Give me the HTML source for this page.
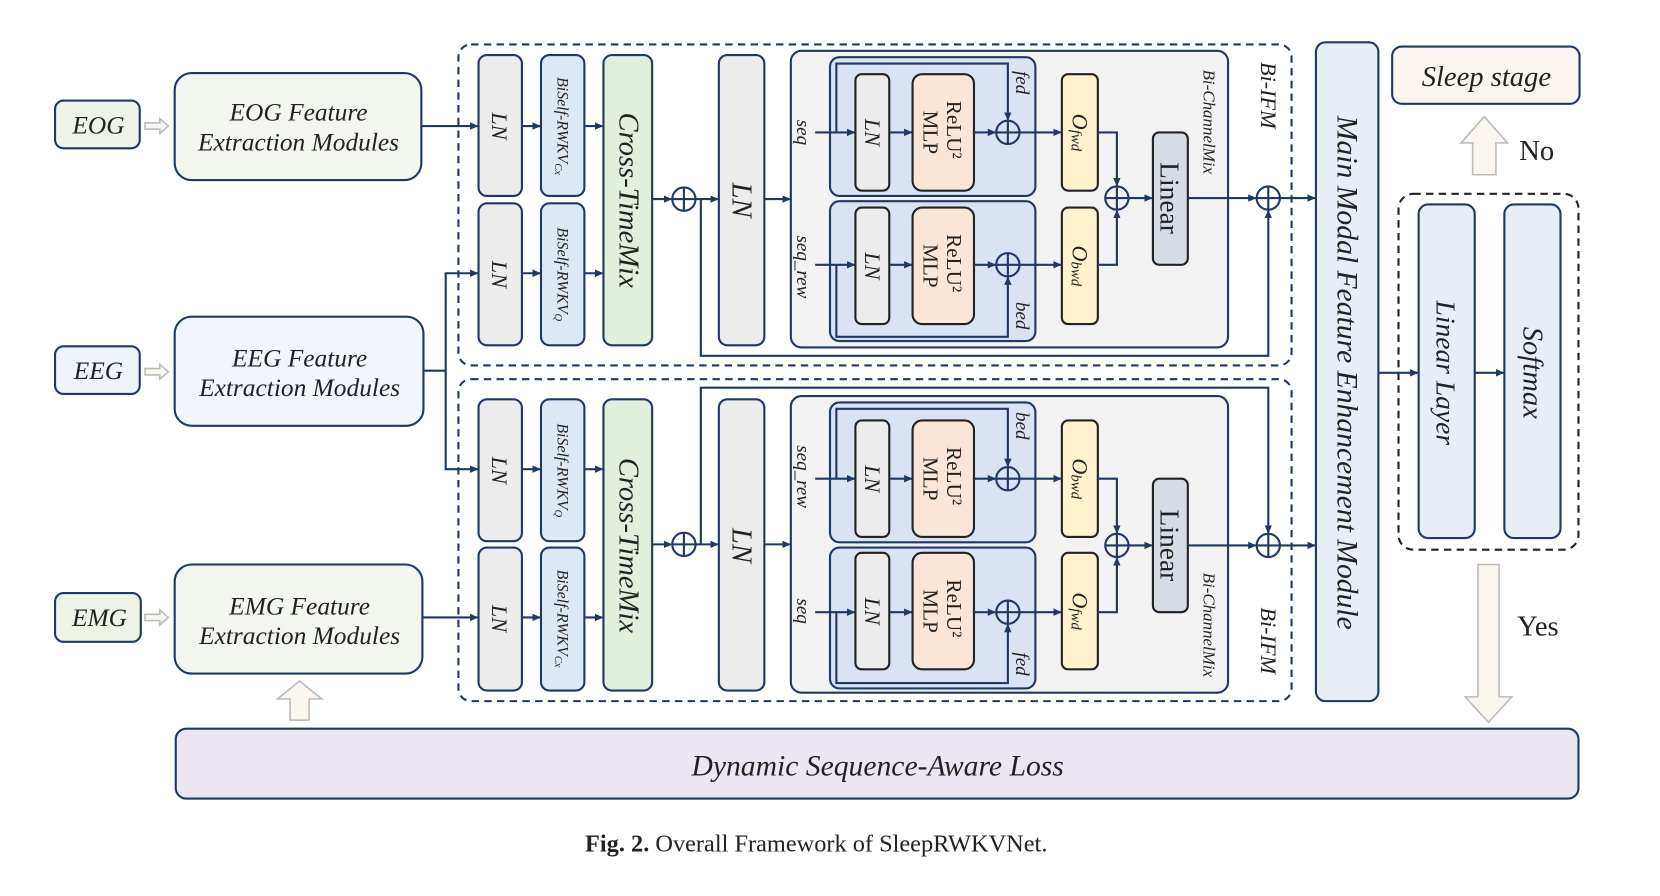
<!DOCTYPE html>
<html><head><meta charset="utf-8"><style>
html,body{margin:0;padding:0;background:#fff;}
svg{display:block;}
text{font-family:"Liberation Serif",serif;fill:#222;}
.it{font-style:italic;}
</style></head><body>
<svg width="1660" height="896" viewBox="0 0 1568 846" preserveAspectRatio="none" xmlns="http://www.w3.org/2000/svg">
<defs>
<marker id="a" markerWidth="8" markerHeight="8" refX="7" refY="4" orient="auto" markerUnits="userSpaceOnUse"><path d="M0,0.5 L8,4 L0,7.5 z" fill="#1f3864"/></marker>
<g id="op"><circle r="11" fill="none" stroke="#1f3864" stroke-width="2"/><path d="M-11,0H11M0,-11V11" stroke="#1f3864" stroke-width="2"/></g>
</defs>
<g stroke="#1f3864" stroke-width="2" fill="none">
<rect x="52" y="95" width="80" height="45" rx="8" fill="#eef3e8"/>
<rect x="52" y="327" width="80" height="45" rx="8" fill="#eef3fa"/>
<rect x="52" y="560" width="81" height="46" rx="8" fill="#eef3e8"/>
<rect x="165" y="69" width="233" height="101" rx="16" fill="#f2f6ee"/>
<rect x="165" y="299" width="235" height="103" rx="16" fill="#f2f6fc"/>
<rect x="165" y="533" width="234" height="103" rx="16" fill="#f2f6ee"/>
<rect x="433" y="42" width="787" height="303" rx="12" stroke-dasharray="7,5"/>
<rect x="433" y="358" width="787" height="304" rx="12" stroke-dasharray="7,5"/>
<rect x="1321" y="183" width="170" height="336" rx="14" stroke-dasharray="7,5" stroke="#222"/>
<rect x="452" y="52" width="41" height="133" rx="8" fill="#ececec"/>
<rect x="452" y="192" width="41" height="134" rx="8" fill="#ececec"/>
<rect x="511" y="52" width="41" height="133" rx="8" fill="#dde8f5"/>
<rect x="511" y="192" width="41" height="134" rx="8" fill="#dde8f5"/>
<rect x="570" y="52" width="46" height="274" rx="8" fill="#e2efda"/>
<rect x="679" y="52" width="43" height="274" rx="8" fill="#ececec"/>
<rect x="747" y="48" width="413" height="280" rx="10" fill="#f2f2f2"/>
<rect x="784" y="54" width="194" height="131" rx="9" fill="#dae3f3"/>
<rect x="784" y="190" width="194" height="132" rx="9" fill="#dae3f3"/>
<rect x="808" y="70" width="32" height="110" rx="6" fill="#ececec" stroke="#222"/>
<rect x="862" y="70" width="58" height="110" rx="9" fill="#fbe5d6" stroke="#222"/>
<rect x="808" y="196" width="32" height="110" rx="6" fill="#ececec" stroke="#222"/>
<rect x="862" y="196" width="58" height="110" rx="9" fill="#fbe5d6" stroke="#222"/>
<rect x="1003" y="70" width="34" height="110" rx="6" fill="#fff2cc" stroke="#222"/>
<rect x="1003" y="196" width="34" height="110" rx="6" fill="#fff2cc" stroke="#222"/>
<rect x="1089" y="125" width="33" height="125" rx="6" fill="#d6dce5" stroke="#222"/>
<rect x="452" y="377" width="41" height="134" rx="8" fill="#ececec"/>
<rect x="452" y="517" width="41" height="135" rx="8" fill="#ececec"/>
<rect x="511" y="377" width="41" height="134" rx="8" fill="#dde8f5"/>
<rect x="511" y="517" width="41" height="135" rx="8" fill="#dde8f5"/>
<rect x="570" y="377" width="46" height="275" rx="8" fill="#e2efda"/>
<rect x="679" y="377" width="43" height="275" rx="8" fill="#ececec"/>
<rect x="747" y="374" width="413" height="280" rx="10" fill="#f2f2f2"/>
<rect x="784" y="380" width="194" height="132" rx="9" fill="#dae3f3"/>
<rect x="784" y="517" width="194" height="133" rx="9" fill="#dae3f3"/>
<rect x="808" y="397" width="32" height="110" rx="6" fill="#ececec" stroke="#222"/>
<rect x="862" y="397" width="58" height="110" rx="9" fill="#fbe5d6" stroke="#222"/>
<rect x="808" y="522" width="32" height="110" rx="6" fill="#ececec" stroke="#222"/>
<rect x="862" y="522" width="58" height="110" rx="9" fill="#fbe5d6" stroke="#222"/>
<rect x="1003" y="397" width="34" height="110" rx="6" fill="#fff2cc" stroke="#222"/>
<rect x="1003" y="522" width="34" height="110" rx="6" fill="#fff2cc" stroke="#222"/>
<rect x="1089" y="452" width="33" height="126" rx="6" fill="#d6dce5" stroke="#222"/>
<rect x="1243" y="40" width="59" height="622" rx="9" fill="#e8eef8"/>
<rect x="1315" y="44" width="177" height="54" rx="9" fill="#fbf5f0"/>
<rect x="1340" y="193" width="53" height="315" rx="9" fill="#e8eef8"/>
<rect x="1421" y="193" width="53" height="315" rx="9" fill="#e8eef8"/>
<rect x="166" y="688" width="1325" height="66" rx="10" fill="#ece6f2"/>
</g>
<g fill="#fbf5f0" stroke="#bbb" stroke-width="1.5">
<path d="M137,116h14v-4l8,7-8,7v-4h-14z"/>
<path d="M137,348h14v-4l8,7-8,7v-4h-14z"/>
<path d="M137,580h14v-4l8,7-8,7v-4h-14z"/>
<path d="M274,680v-20h-12l21,-17 21,17h-12v20z"/>
<path d="M1391,165v-30h-11l22,-25 22,25h-11v30z"/>
<path d="M1396,533h20v125h12l-22,24-22,-24h12z"/>
</g>
<g stroke="#1f3864" stroke-width="2" fill="none" marker-end="url(#a)">
<path d="M398,119H451"/>
<path d="M400,350H421V258H451"/>
<path d="M421,350V443H451"/>
<path d="M399,583H451"/>
<path d="M493,119H510"/><path d="M493,258H510"/><path d="M552,119H569"/><path d="M552,258H569"/>
<path d="M616,188H634"/><path d="M657,188H678"/><path d="M722,188H746"/>
<path d="M493,443H510"/><path d="M493,583H510"/><path d="M552,443H569"/><path d="M552,583H569"/>
<path d="M616,514H634"/><path d="M657,514H678"/><path d="M722,514H746"/>
<path d="M770,125H807"/><path d="M840,125H861"/><path d="M920,125H940"/><path d="M963,125H1002"/>
<path d="M790,125V60H952V113"/>
<path d="M770,250H807"/><path d="M840,250H861"/><path d="M920,250H940"/><path d="M963,250H1002"/>
<path d="M790,250V318H952V262"/>
<path d="M1037,125H1055V175"/><path d="M1037,250H1055V199"/>
<path d="M1066,187H1088"/><path d="M1122,187H1186"/><path d="M1209,187H1242"/>
<path d="M662,188V336H1198V199"/>
<path d="M770,452H807"/><path d="M840,452H861"/><path d="M920,452H940"/><path d="M963,452H1002"/>
<path d="M790,452V386H952V440"/>
<path d="M770,578H807"/><path d="M840,578H861"/><path d="M920,578H940"/><path d="M963,578H1002"/>
<path d="M790,578V645H952V590"/>
<path d="M1037,452H1055V503"/><path d="M1037,578H1055V527"/>
<path d="M1066,515H1088"/><path d="M1122,515H1186"/><path d="M1209,515H1242"/>
<path d="M662,514V366H1198V503"/>
<path d="M1302,352H1339"/><path d="M1393,352H1420"/>
</g>
<use href="#op" x="646" y="188"/><use href="#op" x="952" y="125"/><use href="#op" x="952" y="250"/><use href="#op" x="1055" y="187"/><use href="#op" x="1198" y="187"/>
<use href="#op" x="646" y="514"/><use href="#op" x="952" y="452"/><use href="#op" x="952" y="578"/><use href="#op" x="1055" y="515"/><use href="#op" x="1198" y="515"/>
<g class="it" font-size="24" text-anchor="middle">
<text x="93" y="126">EOG</text><text x="93" y="358">EEG</text><text x="94" y="591">EMG</text>
<text x="282" y="114">EOG Feature</text><text x="282" y="142">Extraction Modules</text>
<text x="283" y="346">EEG Feature</text><text x="283" y="374">Extraction Modules</text>
<text x="283" y="580">EMG Feature</text><text x="283" y="608">Extraction Modules</text>
<text x="1404" y="81" font-size="27">Sleep stage</text>
<text x="829" y="732" font-size="28">Dynamic Sequence-Aware Loss</text>
</g>
<text x="1435" y="151" font-size="27">No</text>
<text x="1433" y="600" font-size="27">Yes</text>
<g class="it" text-anchor="middle" dominant-baseline="central">
<g font-size="21">
<text transform="translate(472,119) rotate(90)">LN</text><text transform="translate(472,259) rotate(90)">LN</text>
<text transform="translate(472,444) rotate(90)">LN</text><text transform="translate(472,584) rotate(90)">LN</text>
<text transform="translate(824,125) rotate(90)">LN</text><text transform="translate(824,251) rotate(90)">LN</text>
<text transform="translate(824,452) rotate(90)">LN</text><text transform="translate(824,577) rotate(90)">LN</text>
</g>
<g font-size="15">
<text transform="translate(531,119) rotate(90)">BiSelf-RWKV<tspan font-size="10" dy="4">Cx</tspan></text>
<text transform="translate(531,259) rotate(90)">BiSelf-RWKV<tspan font-size="10" dy="4">Q</tspan></text>
<text transform="translate(531,444) rotate(90)">BiSelf-RWKV<tspan font-size="10" dy="4">Q</tspan></text>
<text transform="translate(531,584) rotate(90)">BiSelf-RWKV<tspan font-size="10" dy="4">Cx</tspan></text>
</g>
<g font-size="27">
<text transform="translate(593,189) rotate(90)">Cross-TimeMix</text>
<text transform="translate(593,515) rotate(90)">Cross-TimeMix</text>
<text transform="translate(700,189) rotate(90)">LN</text>
<text transform="translate(700,515) rotate(90)">LN</text>
<text transform="translate(1272,352) rotate(90)" font-size="28">Main Modal Feature Enhancement Module</text>
<text transform="translate(1366,352) rotate(90)" font-size="26">Linear Layer</text>
<text transform="translate(1447,352) rotate(90)" font-size="27">Softmax</text>
</g>
<g font-size="21">
<text transform="translate(1020,125) rotate(90)">O<tspan font-size="14" dy="4">fwd</tspan></text>
<text transform="translate(1020,251) rotate(90)">O<tspan font-size="14" dy="4">bwd</tspan></text>
<text transform="translate(1020,452) rotate(90)">O<tspan font-size="14" dy="4">bwd</tspan></text>
<text transform="translate(1020,577) rotate(90)">O<tspan font-size="14" dy="4">fwd</tspan></text>
<text transform="translate(1198,90) rotate(90)">Bi-IFM</text>
<text transform="translate(1198,605) rotate(90)">Bi-IFM</text>
</g>
<g font-size="18">
<text transform="translate(758,125) rotate(90)">seq</text>
<text transform="translate(758,252) rotate(90)">seq_rew</text>
<text transform="translate(758,450) rotate(90)">seq_rew</text>
<text transform="translate(758,577) rotate(90)">seq</text>
<text transform="translate(965,78) rotate(90)">fed</text>
<text transform="translate(965,298) rotate(90)">bed</text>
<text transform="translate(965,402) rotate(90)">bed</text>
<text transform="translate(965,627) rotate(90)">fed</text>
</g>
<g font-size="16">
<text transform="translate(1142,115) rotate(90)">Bi-ChannelMix</text>
<text transform="translate(1142,590) rotate(90)">Bi-ChannelMix</text>
</g>
</g>
<g text-anchor="middle" dominant-baseline="central" font-size="20">
<text transform="translate(901,125) rotate(90)">ReLU² <tspan x="0" dy="22">MLP</tspan></text>
<text transform="translate(901,251) rotate(90)">ReLU² <tspan x="0" dy="22">MLP</tspan></text>
<text transform="translate(901,452) rotate(90)">ReLU² <tspan x="0" dy="22">MLP</tspan></text>
<text transform="translate(901,577) rotate(90)">ReLU² <tspan x="0" dy="22">MLP</tspan></text>
<text transform="translate(1105,187) rotate(90)" font-size="26">Linear</text>
<text transform="translate(1105,515) rotate(90)" font-size="26">Linear</text>
</g>
<text x="771" y="804" font-size="23" text-anchor="middle"><tspan font-weight="bold">Fig. 2.</tspan>  Overall Framework of SleepRWKVNet.</text>
</svg>
</body></html>
